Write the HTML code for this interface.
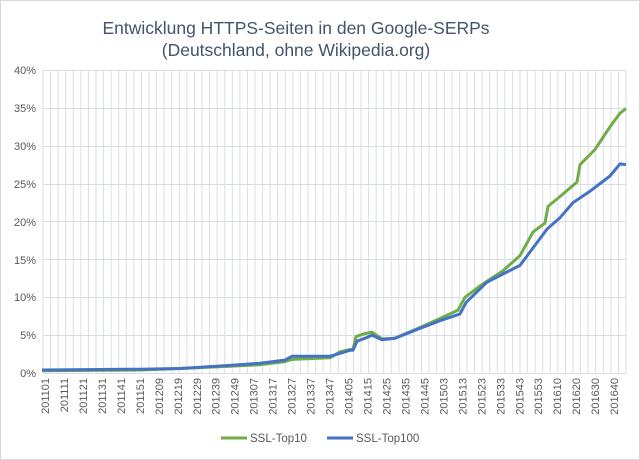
<!DOCTYPE html>
<html><head><meta charset="utf-8"><style>body{margin:0;background:#fff}svg{display:block}</style></head><body>
<svg width="640" height="460" xmlns="http://www.w3.org/2000/svg" font-family="Liberation Sans, sans-serif">
<defs>
<pattern id="vg" patternUnits="userSpaceOnUse" x="42.5" y="0" width="7.5714" height="460">
<rect x="0" y="0" width="1" height="460" fill="#d9dde5"/>
</pattern>
</defs>
<rect x="0.5" y="0.5" width="639" height="459" fill="#fff" stroke="#d9d9d9"/>
<text x="296" y="34" font-size="17.5" fill="#44546a" text-anchor="middle">Entwicklung HTTPS-Seiten in den Google-SERPs</text>
<text x="296" y="56" font-size="17.5" fill="#44546a" text-anchor="middle">(Deutschland, ohne Wikipedia.org)</text>
<rect x="42.5" y="70" width="585" height="303" fill="url(#vg)"/>
<g stroke="#d9dde5" stroke-width="1">
<line x1="43" y1="70.5" x2="626" y2="70.5"/><line x1="43" y1="108.5" x2="626" y2="108.5"/><line x1="43" y1="146.5" x2="626" y2="146.5"/><line x1="43" y1="184.5" x2="626" y2="184.5"/><line x1="43" y1="221.5" x2="626" y2="221.5"/><line x1="43" y1="259.5" x2="626" y2="259.5"/><line x1="43" y1="297.5" x2="626" y2="297.5"/><line x1="43" y1="335.5" x2="626" y2="335.5"/><line x1="43" y1="373.5" x2="626" y2="373.5"/>
</g>
<g font-size="11" fill="#595959" text-anchor="end">
<text x="36" y="74">40%</text><text x="36" y="112">35%</text><text x="36" y="150">30%</text><text x="36" y="188">25%</text><text x="36" y="226">20%</text><text x="36" y="264">15%</text><text x="36" y="301">10%</text><text x="36" y="339">5%</text><text x="36" y="377">0%</text>
</g>
<g font-size="11" fill="#595959" text-anchor="end">
<text transform="translate(49,378) rotate(-90)">201101</text>
<text transform="translate(68,378) rotate(-90)">201111</text>
<text transform="translate(87,378) rotate(-90)">201121</text>
<text transform="translate(106,378) rotate(-90)">201131</text>
<text transform="translate(124.9,378) rotate(-90)">201141</text>
<text transform="translate(143.9,378) rotate(-90)">201151</text>
<text transform="translate(162.8,378) rotate(-90)">201209</text>
<text transform="translate(181.8,378) rotate(-90)">201219</text>
<text transform="translate(200.8,378) rotate(-90)">201229</text>
<text transform="translate(219.7,378) rotate(-90)">201239</text>
<text transform="translate(238.7,378) rotate(-90)">201249</text>
<text transform="translate(257.7,378) rotate(-90)">201307</text>
<text transform="translate(276.6,378) rotate(-90)">201317</text>
<text transform="translate(295.6,378) rotate(-90)">201327</text>
<text transform="translate(314.6,378) rotate(-90)">201337</text>
<text transform="translate(333.6,378) rotate(-90)">201347</text>
<text transform="translate(352.5,378) rotate(-90)">201405</text>
<text transform="translate(371.5,378) rotate(-90)">201415</text>
<text transform="translate(390.5,378) rotate(-90)">201425</text>
<text transform="translate(409.4,378) rotate(-90)">201435</text>
<text transform="translate(428.4,378) rotate(-90)">201445</text>
<text transform="translate(447.4,378) rotate(-90)">201503</text>
<text transform="translate(466.3,378) rotate(-90)">201513</text>
<text transform="translate(485.3,378) rotate(-90)">201523</text>
<text transform="translate(504.3,378) rotate(-90)">201533</text>
<text transform="translate(523.3,378) rotate(-90)">201543</text>
<text transform="translate(542.2,378) rotate(-90)">201553</text>
<text transform="translate(561.2,378) rotate(-90)">201610</text>
<text transform="translate(580.2,378) rotate(-90)">201620</text>
<text transform="translate(599.1,378) rotate(-90)">201630</text>
<text transform="translate(618.1,378) rotate(-90)">201640</text>
</g>
<polyline fill="none" stroke="#70ad47" stroke-width="3" stroke-linejoin="round" points="42,370.7 140,370 180,368.5 230,366.2 260,364.7 285,361.6 292,359.4 330,357.8 340,351.8 350,349.5 353,349.5 356,336.6 365,333.6 372,332.1 382,338.9 395,338.2 420,327.5 440,318.5 458,310.1 465,297.3 480,285.9 503,270.7 520,255.6 533,232.1 545,223 548,206.4 560,196.5 577,182.1 580,164.7 595,149.5 610,126.8 620,113.2 626,108.6"/>
<polyline fill="none" stroke="#4472c4" stroke-width="3" stroke-linejoin="round" points="42,370 140,369.2 180,368.5 230,365.4 260,363.2 285,360.1 292,356.3 330,356.3 340,353.3 350,350.3 353,350.3 357,341.2 365,338.2 372,335.1 382,339.7 395,338.2 420,328.3 440,320.7 460,313.9 466,302.6 487,282.1 520,265.4 547,229.1 560,217.7 573,202.6 590,191.2 610,176 620,163.9 626,164.7"/>
<line x1="221" y1="438" x2="247" y2="438" stroke="#70ad47" stroke-width="3"/>
<text x="250" y="442" font-size="11.5" fill="#595959">SSL-Top10</text>
<line x1="327" y1="438" x2="353" y2="438" stroke="#4472c4" stroke-width="3"/>
<text x="356" y="442" font-size="11.5" fill="#595959">SSL-Top100</text>
</svg>
</body></html>
